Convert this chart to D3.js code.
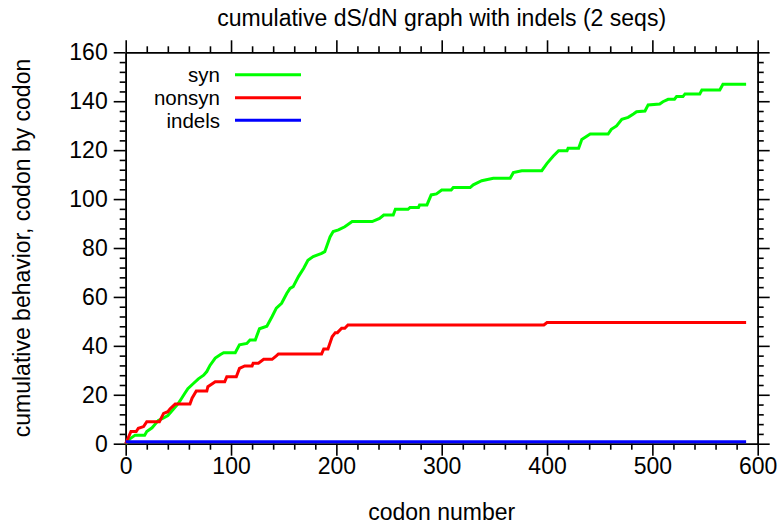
<!DOCTYPE html>
<html>
<head>
<meta charset="utf-8">
<script src="https://cdn.jsdelivr.net/npm/d3@7"></script>
<style>
  html, body { margin: 0; padding: 0; background: #fff; }
  svg text { font-family: "Liberation Sans", Arial, Helvetica, sans-serif; fill: #000; }
</style>
</head>
<body>
<svg id="chart" width="781" height="526"></svg>
<script>
// ---- data ----
const title = "cumulative dS/dN graph with indels (2 seqs)";
const xLabel = "codon number";
const yLabel = "cumulative behavior, codon by codon";
const xTicks = [0, 100, 200, 300, 400, 500, 600];
const yTicks = [0, 20, 40, 60, 80, 100, 120, 140, 160];
const seriesNames = ["syn", "nonsyn", "indels"];
const seriesColors = ["#00ff00", "#ff0000", "#0000ff"];

const synCodon = [0,4,9,18,20,25,28,31,36,40,45,50,53,56,59,64,69,74,77,80,85,90,93,104,108,115,118,123,127,134,139,143,148,153,156,159,164,169,173,178,186,189,194,197,202,208,215,234,241,245,254,256,268,270,278,279,286,290,295,300,309,311,327,330,338,349,365,368,376,395,400,406,411,419,420,430,433,441,458,461,466,471,477,482,485,493,496,507,510,515,521,523,529,531,545,547,564,567,589];
const synValue = [0,2,3.5,3.5,5,6.5,8,9.5,10.5,11.5,14,16.5,18.5,20.5,22.5,24.5,26.5,28,29.5,32,35,36.5,37.2,37.2,40.4,41,42.4,42.4,47,48,52,55.4,57.4,61.5,63.5,64.2,68.3,71.7,75,76.5,77.8,78.5,84.5,86.7,87.4,88.7,90.8,90.8,92.1,93.5,93.5,95.8,95.8,96.6,96.6,97.6,97.6,101.7,102.1,103.7,103.7,104.7,104.7,105.8,107.5,108.5,108.5,110.8,111.6,111.6,114.6,117.6,119.8,119.8,120.8,120.8,124.4,126.6,126.6,128.5,129.9,132.6,133.4,134.8,135.7,136,138.5,138.9,139.8,140.8,140.8,141.9,141.9,143,143,144.6,144.6,146.9,146.9];

const nonsynCodon = [0,1,5,10,12,17,20,32,36,40,42,47,61,63,67,77,78,85,94,96,105,108,113,120,121,126,131,139,143,145,186,188,192,196,199,201,205,208,211,397,400,589];
const nonsynValue = [0,1,5,5,6.3,7,9,9,12.4,13.1,14.2,16.2,16.2,18.6,21.5,21.5,23.3,25.3,25.3,27.4,27.4,30.8,31.8,31.8,32.9,32.9,34.5,34.5,35.9,36.7,36.7,38.7,38.7,43.7,45.4,45.4,47.2,47.2,48.5,48.5,49.5,49.5];

const indelCodon = [0, 589];
const indelValue = [0.8, 0.8];

// ---- layout ----
const W = 781, H = 526;
const m = { left: 125.7, right: 23.3, top: 52.3, bottom: 82.3 };
const svg = d3.select("#chart");
const x = d3.scaleLinear().domain([0, 600]).range([m.left, W - m.right]);
const y = d3.scaleLinear().domain([0, 160]).range([H - m.bottom, m.top]);

const FS = 23;
const LEG_FS = 20.5;
const majorLen = 12, minorLen = 6;
const xMinor = d3.range(0, 601, 20).filter(v => v % 100 !== 0);
const yMinor = d3.range(0, 161, 4).filter(v => v % 20 !== 0);

function styleAxis(g) {
  g.selectAll("path.domain").attr("stroke", "#000").attr("stroke-width", 1.6);
  g.selectAll(".tick line").attr("stroke", "#000").attr("stroke-width", 1.6);
  g.selectAll("text").attr("font-size", FS).attr("font-family", null);
}

// bottom
const gB = svg.append("g").attr("transform", `translate(0,${y(0)})`)
  .call(d3.axisBottom(x).tickValues(xTicks).tickSize(majorLen).tickSizeOuter(0).tickPadding(2).tickFormat(d3.format("d")));
styleAxis(gB);
const gBm = svg.append("g").attr("transform", `translate(0,${y(0)})`)
  .call(d3.axisBottom(x).tickValues(xMinor).tickSize(minorLen).tickSizeOuter(0).tickFormat(""));
styleAxis(gBm);
// top
const gT = svg.append("g").attr("transform", `translate(0,${y(160)})`)
  .call(d3.axisTop(x).tickValues(xTicks).tickSize(majorLen).tickSizeOuter(0).tickFormat(""));
styleAxis(gT);
const gTm = svg.append("g").attr("transform", `translate(0,${y(160)})`)
  .call(d3.axisTop(x).tickValues(xMinor).tickSize(minorLen).tickSizeOuter(0).tickFormat(""));
styleAxis(gTm);
// left
const gL = svg.append("g").attr("transform", `translate(${x(0)},0)`)
  .call(d3.axisLeft(y).tickValues(yTicks).tickSize(majorLen).tickSizeOuter(0).tickPadding(6).tickFormat(d3.format("d")));
styleAxis(gL);
const gLm = svg.append("g").attr("transform", `translate(${x(0)},0)`)
  .call(d3.axisLeft(y).tickValues(yMinor).tickSize(minorLen).tickSizeOuter(0).tickFormat(""));
styleAxis(gLm);
// right
const gR = svg.append("g").attr("transform", `translate(${x(600)},0)`)
  .call(d3.axisRight(y).tickValues(yTicks).tickSize(majorLen).tickSizeOuter(0).tickFormat(""));
styleAxis(gR);
const gRm = svg.append("g").attr("transform", `translate(${x(600)},0)`)
  .call(d3.axisRight(y).tickValues(yMinor).tickSize(minorLen).tickSizeOuter(0).tickFormat(""));
styleAxis(gRm);

// ---- series ----
const line = d3.line().x(d => x(d[0])).y(d => y(d[1]));
const series = [
  d3.zip(synCodon, synValue),
  d3.zip(nonsynCodon, nonsynValue),
  d3.zip(indelCodon, indelValue)
];
series.forEach((s, i) => {
  svg.append("path").datum(s)
    .attr("d", line)
    .attr("fill", "none")
    .attr("stroke", seriesColors[i])
    .attr("stroke-width", 3)
    .attr("stroke-linejoin", "miter");
});

// ---- legend ----
const legY = [74.7, 97.7, 120.3];
seriesNames.forEach((name, i) => {
  svg.append("text").attr("x", 220).attr("y", legY[i] + 7.6)
    .attr("text-anchor", "end").attr("font-size", LEG_FS).text(name);
  svg.append("line").attr("x1", 235).attr("x2", 301)
    .attr("y1", legY[i]).attr("y2", legY[i])
    .attr("stroke", seriesColors[i]).attr("stroke-width", 3);
});

// ---- titles ----
svg.append("text").attr("x", (x(0) + x(600)) / 2).attr("y", 26)
  .attr("text-anchor", "middle").attr("font-size", FS).text(title);
svg.append("text").attr("x", (x(0) + x(600)) / 2).attr("y", 520)
  .attr("text-anchor", "middle").attr("font-size", FS).text(xLabel);
svg.append("text")
  .attr("transform", `translate(30,${(y(0) + y(160)) / 2}) rotate(-90)`)
  .attr("text-anchor", "middle").attr("font-size", FS).text(yLabel);
</script>
</body>
</html>
